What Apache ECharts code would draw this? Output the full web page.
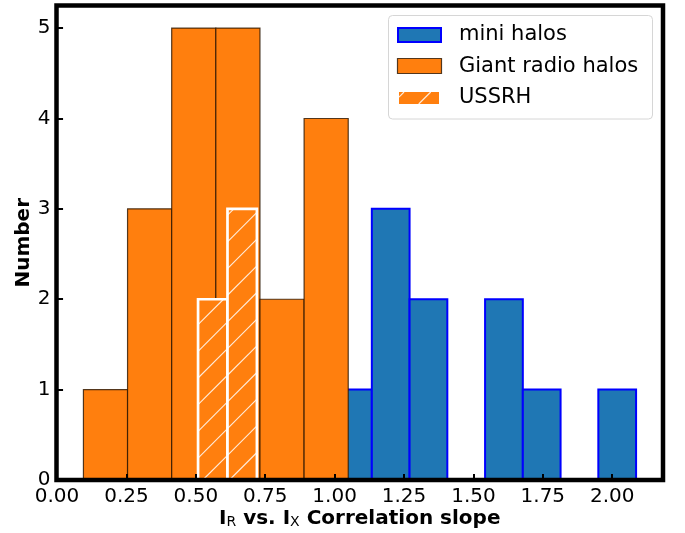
<!DOCTYPE html>
<html>
<head>
<meta charset="utf-8">
<script src="https://cdn.jsdelivr.net/npm/echarts@6/dist/echarts.min.js"></script>
<style>
html,body{margin:0;padding:0;background:#fff;}
#chart{width:685px;height:533px;}
</style>
</head>
<body>
<div id="chart"></div>
<script>
// ---- data ----
const giantEdges = [0.095, 0.254, 0.413, 0.572, 0.731, 0.890, 1.049];
const giantCounts = [1, 3, 5, 5, 2, 4];
const miniEdges = [0.998, 1.134, 1.270, 1.406, 1.542, 1.678, 1.814, 1.950, 2.086];
const miniCounts = [1, 3, 2, 0, 2, 1, 0, 1];
const ussrhEdges = [0.508, 0.614, 0.720];
const ussrhCounts = [2, 3];
const xTicks = [0, 0.25, 0.5, 0.75, 1.0, 1.25, 1.5, 1.75, 2.0];
const yTicks = [0, 1, 2, 3, 4, 5];
const seriesNames = ['mini halos', 'Giant radio halos', 'USSRH'];

const FONT = 'DejaVu Sans';
const HATCH_SPACING = 26.67, HATCH_PHASE = 16;

function toBins(edges, counts) {
  const out = [];
  for (let i = 0; i < counts.length; i++) out.push([edges[i], edges[i + 1], counts[i]]);
  return out;
}

function hatch(x0, y0, x1, y1, color, width) {
  const lines = [];
  const kStart = Math.ceil((x0 + y0 - HATCH_PHASE) / HATCH_SPACING);
  const kEnd = Math.floor((x1 + y1 - HATCH_PHASE) / HATCH_SPACING);
  for (let k = kStart; k <= kEnd; k++) {
    const c = HATCH_PHASE + k * HATCH_SPACING;
    const lo = Math.max(x0, c - y1), hi = Math.min(x1, c - y0);
    if (hi > lo) {
      lines.push({
        type: 'line',
        shape: {x1: lo, y1: c - lo, x2: hi, y2: c - hi},
        style: {stroke: color, lineWidth: width}
      });
    }
  }
  return lines;
}

function barRenderer(fill, stroke, lw, hatched) {
  return function (params, api) {
    const h = api.value(2);
    if (!h) return null;
    const p0 = api.coord([api.value(0), 0]);
    const p1 = api.coord([api.value(1), h]);
    const x = p0[0], y = p1[1], w = p1[0] - p0[0], hh = p0[1] - p1[1];
    if (!hatched) {
      return {
        type: 'rect',
        shape: {x: x, y: y, width: w, height: hh},
        style: {fill: fill, stroke: stroke, lineWidth: lw}
      };
    }
    const children = [{type: 'rect', shape: {x: x, y: y, width: w, height: hh}, style: {fill: fill}}];
    hatch(x, y, x + w, y + hh, 'rgba(255,255,255,0.85)', 1.1).forEach(l => children.push(l));
    children.push({type: 'rect', shape: {x: x, y: y, width: w, height: hh}, style: {fill: null, stroke: stroke, lineWidth: lw}});
    return {type: 'group', children: children};
  };
}

// legend drawn with graphic elements
const legendGraphics = [
  {type: 'rect', shape: {x: 388.5, y: 15.5, width: 264, height: 103.5, r: 4},
   style: {fill: 'rgba(255,255,255,0.8)', stroke: '#d6d6d6', lineWidth: 1}, z: 20},
  {type: 'rect', shape: {x: 398, y: 28, width: 43, height: 14},
   style: {fill: '#1f77b4', stroke: '#0000ff', lineWidth: 2}, z: 21},
  {type: 'rect', shape: {x: 397.5, y: 58.5, width: 44, height: 15},
   style: {fill: '#ff7f0e', stroke: 'rgba(40,20,0,0.8)', lineWidth: 1.2}, z: 21},
  {type: 'rect', shape: {x: 399, y: 92, width: 40, height: 12},
   style: {fill: '#ff7f0e'}, z: 21}
];
hatch(399, 92, 439, 104, 'rgba(255,255,255,0.85)', 1.1).forEach(l => { l.z = 22; legendGraphics.push(l); });
[[35, seriesNames[0]], [66.5, seriesNames[1]], [97.5, seriesNames[2]]].forEach(function (e) {
  legendGraphics.push({
    type: 'text', x: 459, y: e[0], z: 22,
    style: {text: e[1], fontSize: 21, fontFamily: FONT, fill: '#000', verticalAlign: 'middle', align: 'left'}
  });
});

const chart = echarts.init(document.getElementById('chart'), null, {renderer: 'canvas'});
chart.setOption({
  animation: false,
  backgroundColor: '#fff',
  grid: {left: 56.5, right: 22, top: 5.5, bottom: 53, show: true, borderColor: '#000',
         borderWidth: 4.5, backgroundColor: 'transparent', z: 10,
         containLabel: false, outerBoundsMode: 'none'},
  xAxis: {
    type: 'value', min: -0.002, max: 2.183, z: 11,
    axisLine: {show: false}, splitLine: {show: false},
    axisTick: {show: true, inside: true, length: 6, customValues: xTicks, lineStyle: {color: '#000', width: 2}},
    axisLabel: {customValues: xTicks, formatter: v => v.toFixed(2), fontSize: 20, fontFamily: FONT, color: '#000', margin: 7},
    name: '{b|I}{s|R}{b| vs. I}{s|X}{b| Correlation slope}',
    nameLocation: 'middle', nameGap: 23, nameMoveOverlap: false,
    nameTextStyle: {
      rich: {
        b: {fontSize: 20, fontWeight: 'bold', fontFamily: FONT, color: '#000', lineHeight: 26, verticalAlign: 'bottom'},
        s: {fontSize: 14, fontFamily: FONT, color: '#000', lineHeight: 14, verticalAlign: 'bottom'}
      }
    }
  },
  yAxis: {
    type: 'value', min: 0, max: 5.25, z: 11,
    axisLine: {show: false}, splitLine: {show: false},
    axisTick: {show: true, inside: true, length: 6, customValues: yTicks, lineStyle: {color: '#000', width: 2}},
    axisLabel: {customValues: yTicks, formatter: v => String(v), fontSize: 20, fontFamily: FONT, color: '#000', margin: 6},
    name: 'Number', nameLocation: 'middle', nameGap: 23, nameRotate: 90, nameMoveOverlap: false,
    nameTextStyle: {fontSize: 20, fontWeight: 'bold', fontFamily: FONT, color: '#000'}
  },
  series: [
    {name: seriesNames[0], type: 'custom', z: 2, encode: {x: [0, 1], y: 2},
     renderItem: barRenderer('#1f77b4', '#0000ff', 2, false), data: toBins(miniEdges, miniCounts)},
    {name: seriesNames[1], type: 'custom', z: 3, encode: {x: [0, 1], y: 2},
     renderItem: barRenderer('#ff7f0e', 'rgba(40,20,0,0.8)', 1.2, false), data: toBins(giantEdges, giantCounts)},
    {name: seriesNames[2], type: 'custom', z: 4, encode: {x: [0, 1], y: 2},
     renderItem: barRenderer('#ff7f0e', '#ffffff', 2.7, true), data: toBins(ussrhEdges, ussrhCounts)}
  ],
  graphic: {elements: legendGraphics}
});
</script>
</body>
</html>
